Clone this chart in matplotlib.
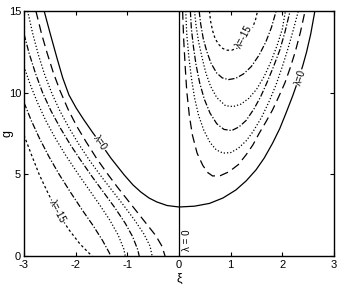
import matplotlib
matplotlib.use("Agg")
from matplotlib import pyplot as plt

plt.rcParams['font.family'] = ['Liberation Sans', 'DejaVu Sans']
plt.rcParams['axes.unicode_minus'] = False

# level values and line styles (lambda = 0 ... -15)
levels = [0, -2.5, -5, -7.5, -10, -12.5, -15]
styles = ["-", (0, (7, 4)), (0, (1, 1.6)), (0, (5, 1.5, 1, 1.5)),
          (0, (1, 1.6)), (0, (5, 1.5, 1, 1.5)), (0, (2, 2))]

# lambda = 0 U-shaped curve (whole range)
xi_0 = [-2.61, -2.50, -2.36, -2.25, -2.13, -1.99, -1.84, -1.68, -1.51, -1.32, -1.06,
        -0.89, -0.74, -0.58, -0.43, -0.23, 0.0, 0.3, 0.59, 0.85, 1.10, 1.3, 1.49,
        1.65, 1.81, 1.95, 2.07, 2.2, 2.3, 2.4, 2.47, 2.55, 2.63]
g_0 = [15, 13.7, 12.1, 10.9, 9.86, 9.06, 8.33, 7.6, 6.86, 6.0, 4.96,
       4.35, 3.92, 3.55, 3.31, 3.09, 3.0, 3.05, 3.22, 3.55, 4.04, 4.6, 5.27,
       6.0, 6.9, 7.8, 8.74, 9.8, 10.7, 11.7, 12.5, 13.6, 15]

# left-hand branches (xi < 0)
left_xi = {
    -2.5: [-2.77, -2.66, -2.55, -2.43, -2.3, -2.15, -1.98, -1.8, -1.6, -1.4, -1.2,
           -1.0, -0.8, -0.6, -0.45, -0.33, -0.27],
    -5: [-2.93, -2.83, -2.72, -2.6, -2.46, -2.3, -2.12, -1.93, -1.72, -1.5, -1.28,
         -1.06, -0.86, -0.68, -0.56, -0.52],
    -7.5: [-3.0, -2.9, -2.78, -2.64, -2.48, -2.3, -2.1, -1.9, -1.68, -1.46, -1.24,
           -1.04, -0.9, -0.8, -0.77],
    -10: [-3.0, -2.88, -2.74, -2.58, -2.4, -2.2, -1.98, -1.76, -1.54, -1.34, -1.18,
          -1.07, -1.04],
    -12.5: [-3.0, -2.86, -2.7, -2.52, -2.32, -2.1, -1.88, -1.66, -1.48, -1.35, -1.32],
    -15: [-3.0, -2.85, -2.7, -2.52, -2.34, -2.14, -1.92, -1.75, -1.68],
}
left_g = {
    -2.5: [15, 13.6, 12.4, 11.2, 10.1, 9.0, 7.95, 7.0, 6.0, 5.1, 4.25,
           3.45, 2.65, 1.85, 1.25, 0.6, 0.0],
    -5: [15, 13.6, 12.3, 11.1, 9.95, 8.85, 7.8, 6.8, 5.8, 4.85, 3.95,
         3.05, 2.2, 1.35, 0.6, 0.0],
    -7.5: [13.6, 12.4, 11.2, 10.0, 8.9, 7.85, 6.8, 5.85, 4.85, 3.9, 2.95,
           2.0, 1.2, 0.4, 0.0],
    -10: [11.6, 10.5, 9.4, 8.3, 7.25, 6.2, 5.15, 4.15, 3.15, 2.2, 1.3,
          0.45, 0.0],
    -12.5: [9.4, 8.3, 7.2, 6.1, 5.0, 3.9, 2.85, 1.85, 0.95, 0.2, 0.0],
    -15: [7.4, 6.15, 4.95, 3.75, 2.65, 1.65, 0.75, 0.2, 0.0],
}

# right-hand closed U curves (xi > 0)
right_xi = {
    -2.5: [0.07, 0.09, 0.12, 0.15, 0.2, 0.26, 0.35, 0.46, 0.56, 0.65, 0.8, 0.97,
           1.15, 1.30, 1.43, 1.55, 1.68, 1.81, 1.93, 2.05, 2.15, 2.25, 2.35, 2.44],
    -5: [0.13, 0.15, 0.19, 0.24, 0.3, 0.38, 0.48, 0.6, 0.72, 0.85, 1.0, 1.15,
         1.3, 1.43, 1.6, 1.75, 1.88, 2.0, 2.1, 2.2, 2.31],
    -7.5: [0.22, 0.24, 0.28, 0.33, 0.4, 0.49, 0.6, 0.73, 0.87, 1.02, 1.16, 1.3,
           1.45, 1.58, 1.7, 1.83, 1.95, 2.05, 2.15],
    -10: [0.30, 0.33, 0.38, 0.45, 0.52, 0.61, 0.73, 0.9, 1.05, 1.2, 1.35, 1.5,
          1.65, 1.78, 1.9, 2.0, 2.06],
    -12.5: [0.39, 0.42, 0.47, 0.54, 0.62, 0.73, 0.84, 0.96, 1.1, 1.25, 1.4,
            1.55, 1.68, 1.79, 1.88],
    -15: [0.59, 0.61, 0.65, 0.7, 0.77, 0.85, 0.93, 1.02, 1.12, 1.23, 1.33,
          1.42, 1.48, 1.52],
}
right_g = {
    -2.5: [15, 13.3, 11.6, 10.1, 8.6, 7.4, 6.3, 5.55, 5.1, 4.9, 4.92, 5.16,
           5.6, 6.2, 6.8, 7.5, 8.2, 8.94, 9.75, 10.6, 11.5, 12.5, 13.7, 15],
    -5: [15, 13.6, 12.2, 10.9, 9.7, 8.6, 7.7, 6.95, 6.5, 6.3, 6.33, 6.6,
         7.05, 7.6, 8.5, 9.5, 10.5, 11.6, 12.6, 13.7, 15],
    -7.5: [15, 13.9, 12.8, 11.7, 10.6, 9.6, 8.75, 8.1, 7.75, 7.68, 7.9, 8.3,
           9.0, 9.75, 10.6, 11.6, 12.6, 13.7, 15],
    -10: [15, 14.1, 13.1, 12.1, 11.2, 10.4, 9.7, 9.2, 9.15, 9.3, 9.65, 10.2,
          11.0, 11.9, 12.9, 13.9, 15],
    -12.5: [15, 14.2, 13.3, 12.5, 11.8, 11.2, 10.9, 10.8, 10.88, 11.15, 11.6,
            12.3, 13.1, 14.0, 15],
    -15: [15, 14.4, 13.8, 13.3, 12.95, 12.7, 12.6, 12.6, 12.72, 12.98, 13.4,
          13.95, 14.45, 15],
}

fig = plt.figure(figsize=(3.37, 2.84), dpi=100)
ax = fig.add_axes([0.0712, 0.0986, 0.9199, 0.8627])

lw = 0.9
ax.plot(xi_0, g_0, color="black", linestyle=styles[0], linewidth=lw)
ax.plot([0, 0], [0, 15], color="black", linestyle="-", linewidth=lw)
for lev, ls in zip(levels[1:], styles[1:]):
    ax.plot(left_xi[lev], left_g[lev], color="black", linestyle=ls, linewidth=lw)
    ax.plot(right_xi[lev], right_g[lev], color="black", linestyle=ls, linewidth=lw)

# contour labels (white box breaks the line like clabel)
box = dict(facecolor="white", edgecolor="none", pad=0.3)
ax.text(2.36, 10.9, "λ=0", rotation=72, fontsize=7, ha="center", va="center", bbox=box)
ax.text(1.25, 13.4, "λ=-15", rotation=62, fontsize=7, ha="center", va="center", bbox=box)
ax.text(-1.52, 6.9, "λ=0", rotation=-55, fontsize=7, ha="center", va="center", bbox=box)
ax.text(-2.36, 2.7, "λ=-15", rotation=-62, fontsize=7, ha="center", va="center", bbox=box)
ax.text(0.15, 0.95, "λ = 0", rotation=90, fontsize=7, ha="center", va="center")

ax.set_xlim(-3, 3)
ax.set_ylim(0, 15)
ax.set_xticks([-3, -2, -1, 0, 1, 2, 3])
ax.set_yticks([0, 5, 10, 15])
ax.tick_params(direction="in", top=True, right=True, labelsize=8, length=3)
ax.tick_params(axis="x", pad=3)
ax.tick_params(axis="y", pad=2)
for s in ax.spines.values():
    s.set_linewidth(1.0)
ax.set_xlabel("ξ", fontsize=9)
ax.set_ylabel("g", fontsize=9, va="center")
ax.xaxis.set_label_coords(0.5, -0.068)
ax.yaxis.set_label_coords(-0.052, 0.5)

fig.savefig("out.png", dpi=100)
